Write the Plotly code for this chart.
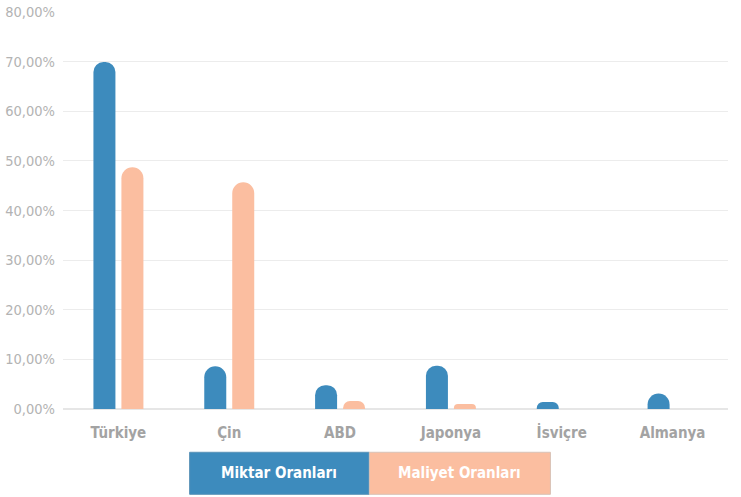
import plotly.graph_objects as go

# Ülkelere göre miktar ve maliyet oranları (%)
categories = ["Türkiye", "Çin", "ABD", "Japonya", "İsviçre", "Almanya"]
miktar = [69.9, 8.6, 4.8, 8.7, 1.4, 3.1]
maliyet = [48.7, 45.7, 1.6, 1.0, 0.0, 0.0]
series_names = ["Miktar Oranları", "Maliyet Oranları"]
tick_vals = [0, 10, 20, 30, 40, 50, 60, 70, 80]
tick_text = ["0,00%", "10,00%", "20,00%", "30,00%", "40,00%", "50,00%", "60,00%", "70,00%", "80,00%"]

BLUE = "#3D8BBD"
ORANGE = "#FBBEA0"
FONT_NARROW = "DejaVu Sans Condensed, Roboto, sans-serif"

fig = go.Figure()
fig.add_trace(go.Bar(x=categories, y=miktar, name=series_names[0],
                     marker=dict(color=BLUE, line=dict(width=0))))
fig.add_trace(go.Bar(x=categories, y=maliyet, name=series_names[1],
                     marker=dict(color=ORANGE, line=dict(width=0))))

# Custom legend boxes beneath the plot
legend_boxes = [
    (0.1904, 0.4607, BLUE, "#5a93b8", series_names[0]),
    (0.4607, 0.7330, ORANGE, "#d9c2b6", series_names[1]),
]
shapes = []
annotations = []
for x0, x1, fill, edge, label in legend_boxes:
    shapes.append(dict(type="rect", xref="paper", yref="paper",
                       x0=x0, x1=x1, y0=-0.2149, y1=-0.109,
                       fillcolor=fill, line=dict(color=edge, width=1), layer="above"))
    annotations.append(dict(xref="paper", yref="paper", x=(x0 + x1) / 2, y=(-0.2149 - 0.109) / 2,
                            text=f"<b>{label}</b>", showarrow=False,
                            font=dict(family=FONT_NARROW, size=15, color="white"),
                            xanchor="center", yanchor="middle"))

fig.update_layout(
    width=741, height=497,
    margin=dict(l=62.5, r=12.5, t=12, b=88, autoexpand=False),
    paper_bgcolor="white", plot_bgcolor="white",
    barmode="group", bargap=0.495, bargroupgap=0.214,
    barcornerradius=11,
    showlegend=False,
    shapes=shapes, annotations=annotations,
    xaxis=dict(
        showgrid=False, zeroline=False, showline=False, automargin=False,
        tickfont=dict(family=FONT_NARROW, size=15, color="#a3a3a3"),
        ticks="", ticklabelstandoff=13,
        tickprefix="<b>", ticksuffix="</b>",
    ),
    yaxis=dict(
        range=[0, 80], tickvals=tick_vals, ticktext=tick_text, automargin=False,
        showgrid=True, gridcolor="#ececec", gridwidth=1,
        zeroline=True, zerolinecolor="#e6e6e6", zerolinewidth=1.5,
        showline=False, ticks="",
        tickfont=dict(family=FONT_NARROW, size=14.5, color="#b3b3b3"),
        ticklabelstandoff=7,
    ),
)

fig.write_html("out.html")
